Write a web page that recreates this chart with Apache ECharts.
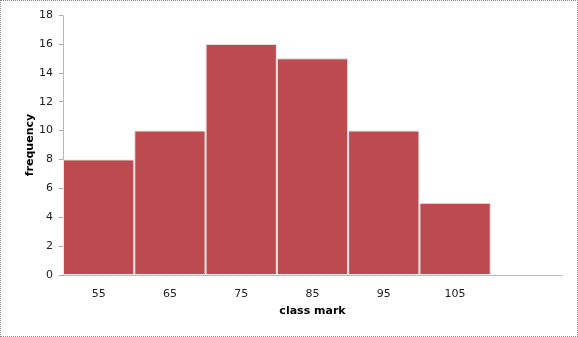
<!DOCTYPE html>
<html><head><meta charset="utf-8">
<script src="https://cdn.jsdelivr.net/npm/echarts@6/dist/echarts.min.js"></script>
<style>html,body{margin:0;padding:0;background:#fff}#c{width:578px;height:337px;box-sizing:border-box;border:1px dotted #888}</style>
</head><body><div id="c"></div>
<script>
const categories = ['55','65','75','85','95','105',''];
const frequency = [8,10,16,15,10,5,null];
const yTicks = {min:0,max:18,interval:2};
const chart = echarts.init(document.getElementById('c'));
chart.setOption({
  animation:false,
  grid:{left:62,right:15,top:14,bottom:61},
  xAxis:{type:'category',data:categories,
    name:'class mark',nameLocation:'middle',nameGap:31,nameMoveOverlap:false,
    nameTextStyle:{fontFamily:'DejaVu Sans',fontSize:11,fontWeight:'bold',color:'#000'},
    axisLine:{lineStyle:{color:'#aaa',type:'dotted'}},axisTick:{show:false},
    axisLabel:{fontFamily:'DejaVu Sans',fontSize:11,color:'#222',margin:14}},
  yAxis:{type:'value',min:yTicks.min,max:yTicks.max,interval:yTicks.interval,
    name:'frequency',nameLocation:'middle',nameGap:27,nameMoveOverlap:false,
    nameTextStyle:{fontFamily:'DejaVu Sans',fontSize:11,fontWeight:'bold',color:'#000'},
    axisLine:{show:true,lineStyle:{color:'#aaa',type:'dotted'}},
    axisTick:{show:true,length:4,lineStyle:{color:'#aaa'}},
    splitLine:{show:false},
    axisLabel:{fontFamily:'DejaVu Sans',fontSize:11,color:'#222',margin:10}},
  series:[{type:'bar',data:frequency,barCategoryGap:'0%',
    itemStyle:{color:'#bc4a4e',borderColor:'#e8e8e8',borderWidth:1}}]
});
</script></body></html>
